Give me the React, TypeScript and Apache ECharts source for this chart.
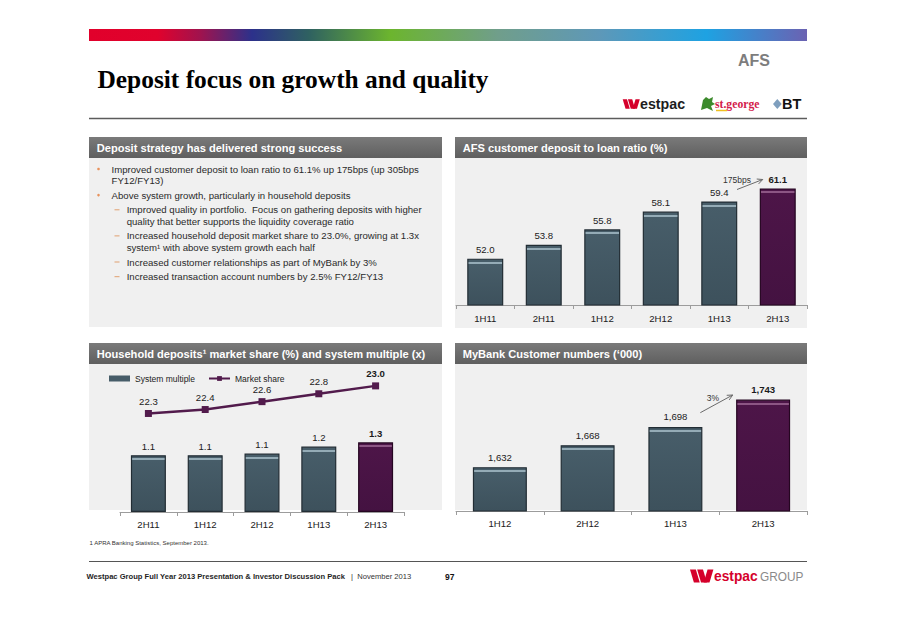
import React, { useEffect, useRef } from 'react';
import * as echarts from 'echarts';

// ---------------- data ----------------
const afsCategories = ['1H11', '2H11', '1H12', '2H12', '1H13', '2H13'];
const afsDepositLoanRatio = [52.0, 53.8, 55.8, 58.1, 59.4, 61.1];

const householdCategories = ['2H11', '1H12', '2H12', '1H13', '2H13'];
const systemMultiple = [1.06, 1.06, 1.09, 1.22, 1.3];
const marketShare = [22.3, 22.4, 22.6, 22.8, 23.0];

const myBankCategories = ['1H12', '2H12', '1H13', '2H13'];
const myBankCustomers = [1632, 1668, 1698, 1743];

const bulletItems = [
  { level: 1, lines: ['Improved customer deposit to loan ratio to 61.1% up 175bps (up 305bps', 'FY12/FY13)'] },
  { level: 1, lines: ['Above system growth, particularly in household deposits'] },
  { level: 2, lines: ['Improved quality in portfolio.  Focus on gathering deposits with higher', 'quality that better supports the liquidity coverage ratio'] },
  { level: 2, lines: ['Increased household deposit market share to 23.0%, growing at 1.3x', 'system\u00b9 with above system growth each half'] },
  { level: 2, lines: ['Increased customer relationships as part of MyBank by 3%'] },
  { level: 2, lines: ['Increased transaction account numbers by 2.5% FY12/FY13'] },
];

// ---------------- styles ----------------
const FONT = "Arial, 'Liberation Sans', Helvetica, sans-serif";
const SERIF = "'Times New Roman', 'Liberation Serif', serif";
const SLATE = { base: '#475d69', dark: '#3d515c', hi: '#94abb6', border: '#222d34' };
const PLUM = { base: '#4d1548', dark: '#441241', hi: '#8c5684', border: '#250621' };
const LINE_PURPLE = '#521b4c';

function barFill(value: number, axisMin: number, pxPerUnit: number, c: any) {
  const h = Math.max((value - axisMin) * pxPerUnit, 10);
  const a = 2.5 / h;
  const b = 4.5 / h;
  return new echarts.graphic.LinearGradient(0, 0, 0, 1, [
    { offset: 0, color: c.base },
    { offset: a, color: c.base },
    { offset: a, color: c.hi },
    { offset: b, color: c.hi },
    { offset: b, color: c.base },
    { offset: 1, color: c.dark },
  ]);
}

function barData(values: number[], axisMin: number, pxPerUnit: number) {
  return values.map((v, i) => {
    const last = i === values.length - 1;
    const c = last ? PLUM : SLATE;
    return {
      value: v,
      itemStyle: { color: barFill(v, axisMin, pxPerUnit, c), borderColor: c.border, borderWidth: 1.2 },
      label: last ? { fontWeight: 'bold' as const } : {},
    };
  });
}

function catAxis(gridIndex: number, data: string[], margin: number) {
  return {
    type: 'category' as const,
    gridIndex,
    data,
    axisLine: { lineStyle: { color: '#9c9c9c', width: 1 } },
    axisTick: { show: true, length: 4, lineStyle: { color: '#9c9c9c' } },
    axisLabel: { color: '#1b1b1b', fontSize: 9.6, fontFamily: FONT, margin },
    splitLine: { show: false },
  };
}

function txt(x: number, y: number, text: string, o: any = {}) {
  const font = `${o.weight || 'normal'} ${o.size || 10}px ${o.family || FONT}`;
  return {
    type: 'text',
    x,
    y,
    z: 20,
    scaleX: o.scaleX || 1,
    style: {
      text,
      fill: o.fill || '#222',
      font,
      textAlign: o.align || 'left',
      textVerticalAlign: 'middle',
      align: o.align || 'left',
      verticalAlign: 'middle',
    },
  };
}

function rect(x: number, y: number, w: number, h: number, fill: any, z = 0) {
  return { type: 'rect', z, shape: { x, y, width: w, height: h }, style: { fill } };
}

function arrow(x1: number, y1: number, x2: number, y2: number, color: string) {
  const ang = Math.atan2(y2 - y1, x2 - x1);
  const L = 6;
  const w = 0.45;
  const p1 = [x2 - L * Math.cos(ang - w), y2 - L * Math.sin(ang - w)];
  const p2 = [x2 - L * Math.cos(ang + w), y2 - L * Math.sin(ang + w)];
  return [
    { type: 'line', z: 20, shape: { x1, y1, x2, y2 }, style: { stroke: color, lineWidth: 1 } },
    { type: 'polyline', z: 20, shape: { points: [p1, [x2, y2], p2] }, style: { stroke: color, lineWidth: 1, fill: null } },
  ];
}

function westpacW(x: number, y: number, h: number, color: string) {
  const polys = [
    [[0, 0], [0.45, 0], [0.75, 1], [0.3, 1]],
    [[0.55, 0], [1.0, 0], [1.3, 1], [0.85, 1]],
    [[1.35, 0], [1.8, 0], [1.5, 1], [1.05, 1]],
  ];
  return polys.map((p) => ({
    type: 'polygon',
    z: 20,
    shape: { points: p.map(([px, py]) => [x + px * h, y + py * h]) },
    style: { fill: color },
  }));
}

function headerFill() {
  return new echarts.graphic.LinearGradient(0, 0, 0, 1, [
    { offset: 0, color: '#7a7a7a' },
    { offset: 1, color: '#5f5f5f' },
  ]);
}

function buildGraphics() {
  const g: any[] = [];
  // top gradient band
  g.push(
    rect(
      89,
      29,
      718,
      12,
      new echarts.graphic.LinearGradient(0, 0, 1, 0, [
        { offset: 0, color: '#e1002b' },
        { offset: 0.096, color: '#e0022d' },
        { offset: 0.155, color: '#a0134e' },
        { offset: 0.227, color: '#2c318b' },
        { offset: 0.306, color: '#2f6161' },
        { offset: 0.42, color: '#6cb52e' },
        { offset: 0.57, color: '#709e8b' },
        { offset: 0.71, color: '#5e98b8' },
        { offset: 0.86, color: '#1ea2e2' },
        { offset: 1, color: '#6b62b2' },
      ])
    )
  );
  g.push(txt(754, 60, 'AFS', { size: 16, weight: 'bold', fill: '#7d7d7d', align: 'center' }));
  g.push(txt(97.5, 78.5, 'Deposit focus on growth and quality', { size: 25.4, weight: 'bold', family: SERIF, fill: '#000' }));

  // logos
  g.push(...westpacW(622.7, 99.3, 9.5, '#d5002b'));
  g.push(txt(640, 103.5, 'estpac', { size: 15, weight: 'bold', fill: '#1d1d1d', scaleX: 0.95 }));
  g.push({
    type: 'polygon',
    z: 20,
    shape: { points: [[701, 110], [703, 100], [706, 97], [709, 99], [713, 97], [712, 102], [715, 104], [711, 106], [713, 111], [707, 108]] },
    style: { fill: '#3c8a2c' },
  });
  g.push(txt(715, 103.5, 'st.george', { size: 13, family: SERIF, fill: '#d3204a', weight: 'bold', scaleX: 0.9 }));
  g.push({ type: 'line', z: 20, shape: { x1: 716, y1: 110.5, x2: 727, y2: 110.5 }, style: { stroke: '#f0c020', lineWidth: 1.5 } });
  g.push({
    type: 'polygon',
    z: 20,
    shape: { points: [[777.3, 99], [781.7, 104], [777.3, 109], [773, 104]] },
    style: { fill: '#7f9fbe' },
  });
  g.push(txt(782, 104, 'BT', { size: 14.5, weight: 'bold', fill: '#111' }));

  // rule
  g.push({ type: 'line', z: 5, shape: { x1: 89, y1: 118.5, x2: 807, y2: 118.5 }, style: { stroke: '#5c5c5c', lineWidth: 1.5 } });

  // panels
  const panels = [
    { x: 89, y: 137, w: 353, bodyH: 190, title: 'Deposit strategy has delivered strong success' },
    { x: 455, y: 137, w: 352, bodyH: 191, title: 'AFS customer deposit to loan ratio (%)' },
    { x: 89, y: 343, w: 353, bodyH: 167, title: 'Household deposits\u00b9 market share (%) and system multiple (x)' },
    { x: 455, y: 343, w: 352, bodyH: 167, title: 'MyBank Customer numbers (\u2018000)' },
  ];
  panels.forEach((p) => {
    g.push(rect(p.x, p.y, p.w, p.bodyH, '#f0f0f0', 0));
    g.push(rect(p.x, p.y, p.w, 21, headerFill(), 1));
    g.push(txt(p.x + 7.7, p.y + 10.7, p.title, { size: 11.1, weight: 'bold', fill: '#ffffff' }));
  });

  // bullets
  let y = 169;
  bulletItems.forEach((item) => {
    if (item.level === 1) {
      g.push({ type: 'circle', z: 20, shape: { cx: 98.5, cy: y, r: 1.3 }, style: { fill: '#e8925c' } });
    } else {
      g.push({ type: 'line', z: 20, shape: { x1: 114.5, y1: y, x2: 119.5, y2: y }, style: { stroke: '#e0a070', lineWidth: 1 } });
    }
    const tx = item.level === 1 ? 111.6 : 126.7;
    item.lines.forEach((line) => {
      g.push(txt(tx, y, line, { size: 9.6, fill: '#2a2a2a' }));
      y += 11.4;
    });
    y += 3.3;
  });

  // annotations
  g.push(txt(751, 180, '175bps', { size: 8.5, fill: '#333', align: 'right' }));
  g.push(...arrow(737, 189.5, 762.7, 179.5, '#6a6a6a'));
  g.push(txt(713, 397.7, '3%', { size: 8.5, fill: '#333', align: 'center' }));
  g.push(...arrow(700.3, 412.7, 732.7, 395, '#6a6a6a'));

  // footnote
  g.push(txt(89.5, 543, '1 APRA Banking Statistics, September 2013.', { size: 6, fill: '#333' }));

  // footer
  g.push({ type: 'line', z: 5, shape: { x1: 89, y1: 561.5, x2: 807, y2: 561.5 }, style: { stroke: '#555', lineWidth: 1 } });
  g.push(txt(86.5, 576.5, 'Westpac Group Full Year 2013 Presentation & Investor Discussion Pack', { size: 7.6, weight: 'bold', fill: '#1f1f1f' }));
  g.push(txt(351, 576.5, '|  November 2013', { size: 7.6, fill: '#333' }));
  g.push(txt(445, 577, '97', { size: 8.5, weight: 'bold', fill: '#111' }));
  g.push(...westpacW(690, 569.5, 13, '#d5002b'));
  g.push(txt(714, 575.5, 'estpac', { size: 15, weight: 'bold', fill: '#d5002b', scaleX: 0.92 }));
  g.push(txt(760, 577, 'GROUP', { size: 12.5, fill: '#8a8a8a', scaleX: 0.95 }));
  return g;
}

export default function App() {
  const ref = useRef<HTMLDivElement>(null);
  useEffect(() => {
    if (!ref.current) return;
    const chart = echarts.init(ref.current, undefined, { renderer: 'svg' });

    const tr = { top: 166, height: 139, min: 46, max: 64 };
    const bl = { top: 378, height: 134, min: 0, max: 2.5, lmin: 19.8, lmax: 23.2 };
    const br = { top: 377, height: 134, min: 1560, max: 1780 };

    const labelBase = { show: true, position: 'top' as const, distance: 4, color: '#1b1b1b', fontSize: 9.6, fontFamily: FONT };

    const option: any = {
      animation: false,
      backgroundColor: '#ffffff',
      textStyle: { fontFamily: FONT },
      grid: [
        { left: 456, top: tr.top, width: 351, height: tr.height },
        { left: 120, top: bl.top, width: 284, height: bl.height },
        { left: 456, top: br.top, width: 351, height: br.height },
      ],
      legend: {
        left: 104,
        top: 369,
        itemWidth: 21,
        itemHeight: 6,
        itemGap: 13,
        textStyle: { fontSize: 8.5, color: '#222', fontFamily: FONT },
        data: [
          { name: 'System multiple', icon: 'rect', itemStyle: { color: SLATE.base, borderWidth: 0 } },
          { name: 'Market share' },
        ],
      },
      xAxis: [
        catAxis(0, afsCategories, 8),
        catAxis(1, householdCategories, 7),
        catAxis(2, myBankCategories, 7),
      ],
      yAxis: [
        { type: 'value', gridIndex: 0, min: tr.min, max: tr.max, show: false },
        { type: 'value', gridIndex: 1, min: bl.min, max: bl.max, show: false },
        { type: 'value', gridIndex: 1, min: bl.lmin, max: bl.lmax, show: false },
        { type: 'value', gridIndex: 2, min: br.min, max: br.max, show: false },
      ],
      series: [
        {
          type: 'bar',
          name: 'AFS ratio',
          xAxisIndex: 0,
          yAxisIndex: 0,
          barWidth: 36,
          data: barData(afsDepositLoanRatio, tr.min, tr.height / (tr.max - tr.min)),
          label: { ...labelBase, formatter: (p: any) => Number(p.value).toFixed(1) },
        },
        {
          type: 'bar',
          name: 'System multiple',
          xAxisIndex: 1,
          yAxisIndex: 1,
          barWidth: 35,
          itemStyle: { color: SLATE.base },
          data: barData(systemMultiple, bl.min, bl.height / (bl.max - bl.min)),
          label: { ...labelBase, formatter: (p: any) => Number(p.value).toFixed(1) },
        },
        {
          type: 'line',
          name: 'Market share',
          xAxisIndex: 1,
          yAxisIndex: 2,
          symbol: 'rect',
          symbolSize: 7,
          lineStyle: { color: LINE_PURPLE, width: 2.5 },
          itemStyle: { color: LINE_PURPLE },
          z: 5,
          data: marketShare.map((v, i) => ({
            value: v,
            label: i === marketShare.length - 1 ? { fontWeight: 'bold' } : {},
          })),
          label: { ...labelBase, distance: 3.5, formatter: (p: any) => Number(p.value).toFixed(1) },
        },
        {
          type: 'bar',
          name: 'MyBank',
          xAxisIndex: 2,
          yAxisIndex: 3,
          barWidth: 54,
          data: barData(myBankCustomers, br.min, br.height / (br.max - br.min)),
          label: {
            ...labelBase,
            distance: 5,
            formatter: (p: any) => Number(p.value).toLocaleString('en-US'),
          },
        },
      ],
      graphic: { elements: buildGraphics() },
    };

    chart.setOption(option);
    return () => chart.dispose();
  }, []);

  return <div ref={ref} style={{ position: 'absolute', left: 0, top: 0, width: 898, height: 635 }} />;
}
